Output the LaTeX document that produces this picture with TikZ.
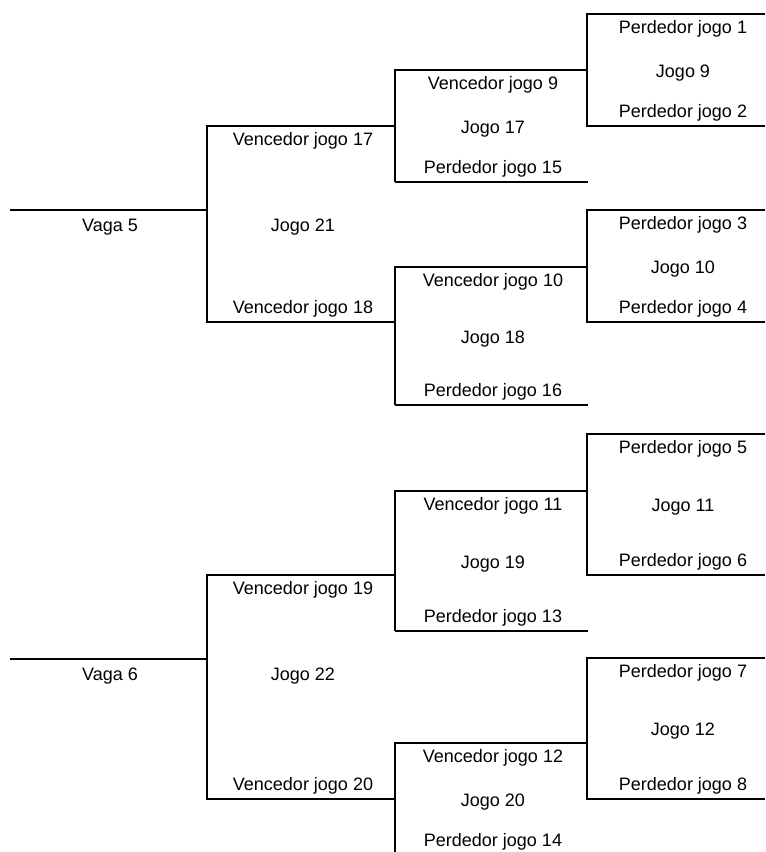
\documentclass[tikz,border=0pt]{standalone}
\usepackage{fontspec}
\newfontfamily\chave{Liberation Sans}

\begin{document}
\begin{tikzpicture}[x=1pt,y=-1pt,line width=2pt,
    rotulo/.style={anchor=base,inner sep=0pt,font=\chave\fontsize{18}{20}\selectfont}]
    \useasboundingbox (0,0) rectangle (766,852);
    \foreach \n/\t/\b [evaluate={\a=int(2*\n-17); \c=int(2*\n-16); \m=(\t+\b)/2;}] in {9/14/126,10/210/322,11/434/575,12/658/799} {
        \coordinate (c\n-ne) at (765,\t);
        \coordinate (c\n-nw) at (587,\t);
        \coordinate (c\n-sw) at (587,\b);
        \coordinate (c\n-se) at (765,\b);
        \draw (c\n-ne) -- (c\n-nw) -- (c\n-sw) -- (c\n-se); % jogos 9 a 12
        \node[rotulo] (p\a) at (683,\t+19) {Perdedor jogo \a};
        \node[rotulo] (j\n) at (683,\m+7) {Jogo \n};
        \node[rotulo] (p\c) at (683,\b-9) {Perdedor jogo \c};
    }
    \foreach \n/\t/\b/\v/\p [evaluate={\m=(\t+\b)/2;}] in {17/70/182/9/15,18/267/405/10/16,19/491/631/11/13,20/743/855/12/14} {
        \coordinate (m\n-ne) at (587,\t);
        \coordinate (m\n-nw) at (395,\t);
        \coordinate (m\n-sw) at (395,\b);
        \coordinate (m\n-se) at (588,\b);
        \draw (m\n-ne) -- (m\n-nw) -- (m\n-sw); % jogos 17 a 20
        \node[rotulo] (v\v) at (493,\t+19) {Vencedor jogo \v};
        \node[rotulo] (j\n) at (493,\m+7) {Jogo \n};
        \node[rotulo] (p\p) at (493,\b-9) {Perdedor jogo \p};
    }
    \foreach \n in {17,18,19}
        \draw (m\n-sw) -- (m\n-se); % linha de baixo
    \foreach \n/\t/\b/\g/\s/\u/\w in {21/126/322/210/5/17/18,22/575/799/659/6/19/20} {
        \coordinate (e\n-ne) at (395,\t);
        \coordinate (e\n-nw) at (207,\t);
        \coordinate (e\n-sw) at (207,\b);
        \coordinate (e\n-se) at (395,\b);
        \coordinate (g\s-w) at (10,\g);
        \coordinate (g\s-e) at (207,\g);
        \draw (e\n-ne) -- (e\n-nw) -- (e\n-sw) -- (e\n-se); % jogos 21 e 22
        \draw (g\s-w) -- (g\s-e); % vagas
        \node[rotulo] (v\u) at (303,\t+19) {Vencedor jogo \u};
        \node[rotulo] (j\n) at (303,\g+21) {Jogo \n};
        \node[rotulo] (v\w) at (303,\b-9) {Vencedor jogo \w};
        \node[rotulo] (vaga\s) at (110,\g+21) {Vaga \s};
    }
\end{tikzpicture}
\end{document}
